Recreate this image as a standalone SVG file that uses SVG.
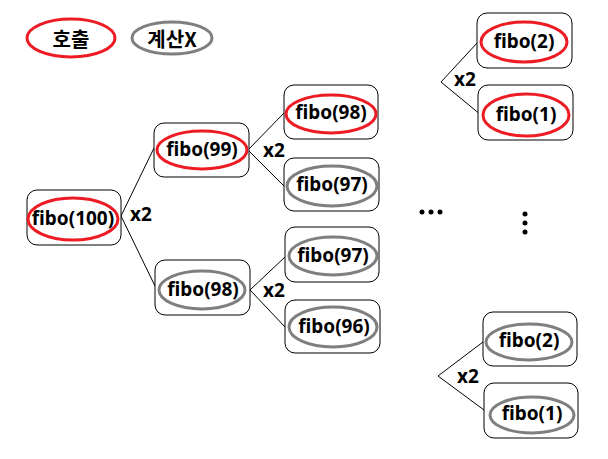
<svg xmlns="http://www.w3.org/2000/svg" width="608" height="459" viewBox="0 0 608 459">
<style>
.box{fill:#fff;stroke:#000;stroke-width:1}
.call{fill:none;stroke:#ED1C24;stroke-width:3}
.skip{fill:none;stroke:#7F7F7F;stroke-width:3}
.t{font-family:"Noto Sans","Noto Sans CJK KR",sans-serif;font-weight:bold;font-size:19px;fill:#000;text-anchor:middle;dominant-baseline:central}
.k{font-family:"Noto Sans CJK KR","Noto Sans",sans-serif;font-weight:bold;font-size:20px;fill:#000;text-anchor:middle;dominant-baseline:central}
.c{fill:none;stroke:#000;stroke-width:1}
.dot{fill:#000}
</style>
<rect width="608" height="459" fill="#fff"/>
<g id="legend">
<g id="legend-call"><ellipse class="call" cx="71" cy="38" rx="44" ry="19"/><text class="k" x="71" y="38">호출</text></g>
<g id="legend-skip"><ellipse class="skip" cx="172" cy="38" rx="40" ry="16"/><text class="k" x="172" y="38">계산X</text></g>
</g>
<g id="connectors">
<polyline class="c" points="154,148 121,216 155,286"/>
<polyline class="c" points="284,113 248,150 284,186"/>
<polyline class="c" points="285,257 250,290 285,327"/>
<polyline class="c" points="478,42 441,82 481,115"/>
<polyline class="c" points="483,342 438,376 484,410"/>
<text class="t" x="141" y="214">x2</text>
<text class="t" x="274" y="150">x2</text>
<text class="t" x="274" y="290">x2</text>
<text class="t" x="465" y="79">x2</text>
<text class="t" x="468" y="376">x2</text>
</g>
<g id="n100"><rect class="box" x="27" y="190" width="94" height="55" rx="10"/><ellipse class="call" cx="73" cy="219" rx="45" ry="21"/><text class="t" x="73" y="218">fibo(100)</text></g>
<g id="n99"><rect class="box" x="154" y="123" width="95" height="54" rx="10"/><ellipse class="call" cx="202" cy="150" rx="45" ry="19"/><text class="t" x="202" y="149">fibo(99)</text></g>
<g id="n98b"><rect class="box" x="155" y="260" width="95" height="55" rx="10"/><ellipse class="skip" cx="202" cy="290" rx="43" ry="19"/><text class="t" x="203" y="289">fibo(98)</text></g>
<g id="n98a"><rect class="box" x="284" y="85" width="94" height="54" rx="10"/><ellipse class="call" cx="331" cy="114" rx="45" ry="19"/><text class="t" x="331" y="112">fibo(98)</text></g>
<g id="n97a"><rect class="box" x="284" y="158" width="95" height="53" rx="10"/><ellipse class="skip" cx="332" cy="186" rx="45" ry="20"/><text class="t" x="332" y="184">fibo(97)</text></g>
<g id="n97b"><rect class="box" x="285" y="227" width="94" height="55" rx="10"/><ellipse class="skip" cx="333" cy="256" rx="44" ry="19"/><text class="t" x="333" y="255">fibo(97)</text></g>
<g id="n96"><rect class="box" x="285" y="300" width="95" height="53" rx="10"/><ellipse class="skip" cx="333" cy="327" rx="44" ry="20"/><text class="t" x="334" y="326">fibo(96)</text></g>
<g id="n2a"><rect class="box" x="477" y="13" width="95" height="55" rx="10"/><ellipse class="call" cx="524" cy="42" rx="43" ry="20"/><text class="t" x="524" y="41">fibo(2)</text></g>
<g id="n1a"><rect class="box" x="478" y="85" width="95" height="55" rx="10"/><ellipse class="call" cx="526" cy="115" rx="43" ry="21"/><text class="t" x="526" y="114">fibo(1)</text></g>
<g id="n2b"><rect class="box" x="483" y="312" width="94" height="54" rx="10"/><ellipse class="skip" cx="529" cy="342" rx="43" ry="18"/><text class="t" x="529" y="340">fibo(2)</text></g>
<g id="n1b"><rect class="box" x="484" y="383" width="94" height="55" rx="10"/><ellipse class="skip" cx="532" cy="415" rx="42" ry="18"/><text class="t" x="532" y="413">fibo(1)</text></g>
<g id="ellipsis">
<circle class="dot" cx="422" cy="212" r="2.5"/><circle class="dot" cx="431" cy="212" r="2.5"/><circle class="dot" cx="440" cy="212" r="2.5"/>
<circle class="dot" cx="525" cy="214" r="2.5"/><circle class="dot" cx="525" cy="223" r="2.5"/><circle class="dot" cx="525" cy="232" r="2.5"/>
</g>
</svg>
